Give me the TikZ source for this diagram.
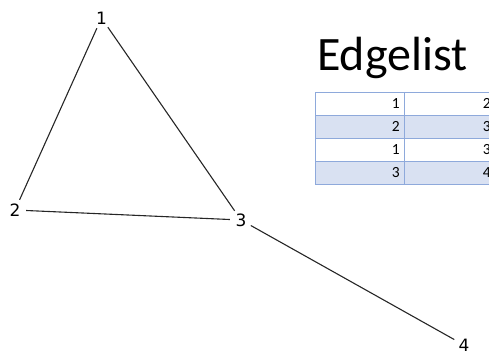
\documentclass[tikz,border=0pt]{standalone}
\usepackage{fontspec}
\setmainfont{DejaVu Sans}
\newfontfamily\calibri{Carlito}
\definecolor{gridblue}{HTML}{8EA9DB}
\definecolor{bandblue}{HTML}{D9E1F2}
\tikzset{
  vertex/.style={circle,inner sep=0pt,minimum size=22pt,font=\fontsize{17}{17}\selectfont},
  edge/.style={draw=black!85,line width=1.1pt},
  cell/.style={anchor=east,inner sep=0pt,font=\calibri\fontsize{15.5}{16}\selectfont}
}
\begin{document}
\begin{tikzpicture}[x=1pt,y=-1pt]
  \useasboundingbox (0,0) rectangle (489,354);
  \clip (0,0) rectangle (489,354);

  % graph
  \node[vertex] (v1) at (101.5,18) {1};
  \node[vertex] (v2) at (15,210) {2};
  \node[vertex] (v3) at (241,220) {3};
  \node[vertex] (v4) at (464,345) {4};
  \draw[edge] (v1) -- (v2);
  \draw[edge] (v1) -- (v3);
  \draw[edge] (v2) -- (v3);
  \draw[edge] (v3) -- (v4);

  % edge list table
  \node[anchor=base west,inner sep=0pt,font=\calibri\fontsize{48}{48}\selectfont]
    (title) at (317,70) {Edgelist};
  \foreach \r in {1,3} {
    \fill[bandblue] (315,92+23*\r) rectangle (495,115+23*\r);
  }
  \foreach \y in {92,115,138,161,184}
    \draw[gridblue,line width=0.8pt] (315,\y) -- (495,\y);
  \draw[gridblue,line width=0.8pt] (315,92) -- (315,184);
  \draw[gridblue,line width=0.8pt] (404,92) -- (404,184);
  \foreach \a/\b [count=\r from 0] in {1/2,2/3,1/3,3/4} {
    \node[cell] (a\r) at (400,103.5+23*\r) {\a};
    \node[cell] (b\r) at (491,103.5+23*\r) {\b};
  }
\end{tikzpicture}
\end{document}
